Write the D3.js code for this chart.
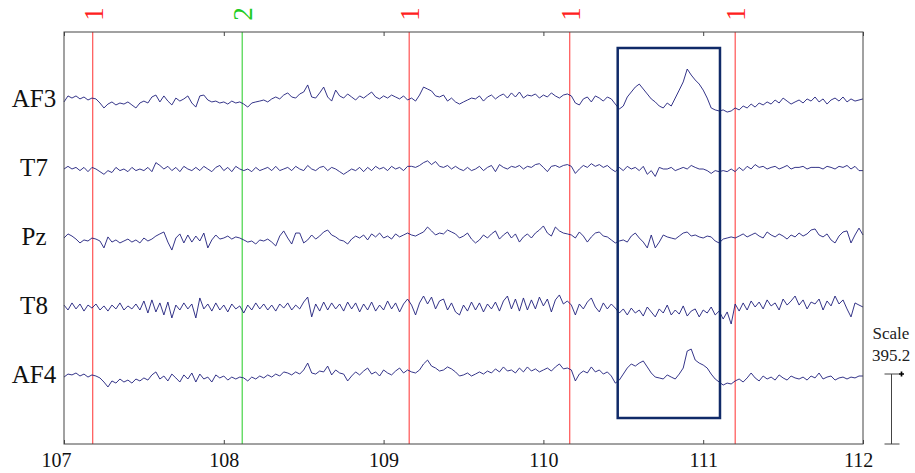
<!DOCTYPE html>
<html>
<head>
  <meta charset="utf-8">
  <title>EEG segment</title>
  <script src="https://d3js.org/d3.v7.min.js"></script>
  <style>
    body { margin: 0; background: #fff; }
    text { font-family: "Liberation Serif", "DejaVu Serif", serif; }
  </style>
</head>
<body>
  <div id="chart"></div>

  <script type="text/javascript">

    // Channels, top to bottom
    var channels = ['AF3', 'T7', 'Pz', 'T8', 'AF4'];

    // Time window (s) and axis ticks
    var timeStart = 107, timeEnd = 112;
    var tickValues = [107, 108, 109, 110, 111, 112];

    // Event markers
    var eventTimes = [107.18, 108.115, 109.16, 110.165, 111.2];
    var eventCodes = ['1', '2', '1', '1', '1'];

    // Highlighted segment
    var boxStart = 110.465, boxEnd = 111.105;

    // Scale bar (uV)
    var scaleValue = 395.2;

    // Samples in uV, evenly spaced across the window
    var af3 = [-11, 23, 11, 23, 6, 17, 0, 11,
      6, -17, -45, -23, -11, -28, -17, -23, -11, -28, -45,
      -17, -6, -17, 17, 28, -11, 23, -6, -28, 11, -6, 6, 23, -17, -40,
      23, 28, 0, -11, -6, -17, -11, -23, -6, -17, -11,
      -23, -40, -17, -11, -6, 0, -11, 6, 17, 6, 28,
      40, 17, 11, 34, 45, 85, 17, 11, 40, 73, 17, -6, 56,
      23, 11, 34, 17, 0, 23, 11, 28, 45, 17, 6, 23, 11, 28, 17, 6, 23, 0,
      11, -6, 28, 73, 62, 51, 23, 17, 28, -6, 11, -11, -23,
      -11, 0, 11, 6, 23, -6, 17, 28, 6, 23, 34, 11, 40, 17, 45, 11, 28, 23, 34, 11, 28, 17, 40, 23, 11, 28, 34,
      23, -17, -28, 6, 17, -11, 23, 11, -6, 17, 6, -23,
      -51, -34, 17, 45, 73, 90, 62, 34, 6, -11, -34,
      -45, -17, -34, 11, 56, 102, 175, 141, 113, 90, 56, 11, -45, -56, -62, -56, -68, -62, -45,
      -56, -34, -45, -23, -40, -17, -28, -11, -23, 0, -17, 11, -6, -23, -11, 0, -17, 6, -6, 17, -11, 6, -23, 0, 11, -6, 17, -11, 6, -6, 0, 6];

    var t7 = [0, 15, 0, 9, -9, 9, -15, 9,
      0, -15, -30, -9, -20, 9, -9, 0, -15, 9, -9,
      0, -9, 9, -15, 36, 20, 0, 15, -9, 9, -15, 15, 0, -9, 9,
      -9, 15, 0, -15, 9, 20, -9, 9, -15, 15, 0,
      -9, 0, -15, 9, -9, 0, 9, -9, 15, -9, 0,
      9, -9, 15, 0, -9, 20, 0, -9, 9, 15, -9, 9, 0,
      -15, -30, -15, 0, -9, 9, -15, 9, -9, 15, 0, 9, -9, 15, 0, 9, -9, 15,
      15, 9, 20, 36, 46, 25, 42, 15, 9, 20, 0, 15, 0,
      -9, 9, -9, 0, 15, -9, 9, 20, -15, 25, 9, 0, 15, 9, 20, 0, 15, 9, 25, 30, 9, -15, 15, 20, 9, 20, 25,
      15, -25, 0, 20, 9, 30, 15, 25, 9, 20, 0, -15,
      9, -9, 15, 0, 9, -9, 15, -30, -9, -42, 9,
      0, 0, 9, -9, 0, 9, 0, 20, 9, 0, 0, -9, -25, -9, -15, -9, -15, 0, -15,
      9, -9, 15, 0, 25, 9, 15, 0, 9, 15, 0, 9, 20, 0, 9, 9, 15, 0, 9, 9, 9, 0, 15, 9, 0, 15, 9, 20, 0, 15, -9, -9];

    var pz = [0, 23, 11, -6, -28, -11, -17, 0,
      -6, -17, -56, 6, -23, -11, -28, -17, -6, -23, -11,
      -28, 0, -17, -6, 11, 23, 34, -23, -68, 0, 23, -28, 17, -23, 11,
      -17, 28, -56, -11, 17, -6, 0, 11, -6, 6, 0,
      -11, -23, -17, -34, -11, -17, -6, -23, -45, 11, 40,
      0, -34, 28, 28, -28, -11, 17, -6, 11, 34, 45, 17, 6,
      -11, -17, -34, -6, 11, 0, 17, -11, 23, 6, 28, 0, 11, -6, 23, 6, 17, 28,
      17, 11, 23, 34, 62, 40, 17, 28, 23, 45, 34, 23, 0,
      11, 28, -6, -28, -11, 17, 0, 23, 40, -6, 17, 34, 0, 23, -23, 6, 23, 0, 28, 45, 68, 28, 11, 62, 40, 28, 23,
      17, 0, 34, 11, -23, 6, 28, 34, 11, 6, -11, -28,
      -17, -11, -23, 11, 28, 0, -23, -56, 17, -56, -23,
      17, 6, 0, -6, 11, 28, 34, 11, 17, 6, 0, 11, 6, -17, -28, -6, 0, 6, 0,
      11, 23, 6, 17, 28, 11, 0, 34, 17, 6, 23, 11, -6, 17, 6, 28, 11, 23, 45, 51, 17, 6, 23, -11, -28, 11, 34, 40, -28, 17, 56, 17];

    var t8 = [11, -17, 23, -11, 17, -23, 11, -6,
      17, -17, 6, -23, 11, -11, 23, -17, 6, -11, 17,
      -17, 34, -34, 40, -28, 23, -45, 28, -62, 11, -17, 23, -11, 17, -62,
      51, -11, 17, -23, 23, -17, 11, -28, 17, -11, 6,
      -34, 11, -17, 23, -11, 17, -17, 11, -23, 17, -6,
      23, -17, 11, -11, 28, 56, -56, 17, -23, 28, -17, 23, -11,
      17, -23, 28, -11, 23, -28, 17, -17, 28, -23, 11, -17, 34, -11, 23, -28, 17, 45,
      11, -45, 23, 62, 17, 56, -11, 34, 45, -17, 23, -28, -45,
      11, -23, 28, -17, 23, -28, 17, -11, 28, -23, 34, 62, -11, 45, -23, 51, -17, 40, -11, 56, 6, 45, -28, 40, 68, 17, 34,
      11, -45, 17, -11, 28, 51, 0, -28, 23, -11, 17, -6,
      -34, -11, -45, -6, -34, -17, -51, 0, -28, -56, -11,
      -34, 11, -45, -17, -40, 6, -51, -23, -11, -56, -17, -34, 0, -45, -23, -68, -28, -96, 17,
      -23, 23, -17, 34, 0, 28, -11, 40, 6, 23, -17, 45, 11, 34, 62, 11, 40, -11, 28, 17, 45, -17, 34, 6, 62, 17, 40, -11, -56, 23, 11, 0];

    var af4 = [-6, 11, 6, 17, 0, 11, -6, 6,
      0, -11, -34, -62, -28, -40, -17, -34, -23, -40, -17,
      -28, -11, -23, 6, 23, -17, 0, -28, 11, -11, -34, 6, -17, 17, -34,
      11, -17, -6, -34, 6, -11, 0, -23, -6, -17, -6,
      -11, -28, -6, -17, 0, -11, 6, -6, 11, 0, 23,
      17, 6, 23, 11, 34, 73, 17, 11, 28, 23, 56, 6, 34,
      17, 11, -28, 0, 23, 6, 28, 45, 11, 23, 0, 34, 17, 6, 28, 45, 17, 34,
      23, 17, 34, 68, 90, 56, 45, 28, 34, 51, 40, 23, 0,
      6, 17, 0, 11, 23, 11, 28, 17, 40, 23, 51, 28, 34, 17, 45, 23, 51, 28, 40, 23, 34, 45, 28, 51, 68, 40, 45,
      34, -28, 11, 28, 17, 51, 23, 34, 11, 23, 0, -40,
      -23, 11, 45, 68, 56, 73, 85, 51, 17, -6, -11,
      -17, 6, -6, -17, 11, 45, 141, 152, 90, 73, 62, 45, 11, -17, -34, -51, -40, -45, -28,
      -17, -34, -11, 17, -11, -28, 0, -17, -6, -23, 6, -11, -23, 0, -11, -17, -6, -23, 0, -11, 17, -17, -6, 0, -23, -11, -6, -17, -6, -11, 0, 0];

    var signals = [af3, t7, pz, t8, af4];

    // Dimensions
    var width = 915, height = 473;
    var plot = {left: 64, right: 863, top: 32, bottom: 444};

    var x = d3.scaleLinear().domain([timeStart, timeEnd]).range([plot.left, plot.right]);
    var yBase = d3.scalePoint().domain(channels).range([100, 376]);
    var amp = d3.scaleLinear().domain([0, scaleValue]).range([0, 70]);

    var svg = d3.select('#chart')
                .append('svg')
                  .attr('width', width)
                  .attr('height', height);

    // Event markers
    svg.selectAll('.event')
        .data(eventTimes)
        .enter().append('line')
          .attr('class', 'event')
          .attr('x1', function(d) { return x(d); })
          .attr('x2', function(d) { return x(d); })
          .attr('y1', plot.top)
          .attr('y2', plot.bottom)
          .style('stroke', function(d, i) { return eventCodes[i] === '2' ? '#22cc22' : '#ff3030'; })
          .style('stroke-width', 1);

    svg.selectAll('.event-label')
        .data(eventTimes)
        .enter().append('text')
          .attr('class', 'event-label')
          .attr('transform', function(d) { return 'translate(' + (x(d) + 1) + ',14) rotate(-90)'; })
          .attr('text-anchor', 'middle')
          .attr('dominant-baseline', 'central')
          .style('font-size', '27px')
          .style('fill', function(d, i) { return eventCodes[i] === '2' ? '#22cc22' : '#ff2020'; })
          .text(function(d, i) { return eventCodes[i]; });

    // Traces
    var line = d3.line()
                 .x(function(d) { return x(d.t); })
                 .y(function(d) { return d.base - amp(d.v); })
                 .curve(d3.curveLinear);

    channels.forEach(function(ch, c) {
      var vals = signals[c];
      var n = vals.length;
      var pts = vals.map(function(v, i) {
        return {t: timeStart + i * (timeEnd - timeStart) / (n - 1), v: v, base: yBase(ch)};
      });
      svg.append('path')
          .attr('class', 'trace')
          .attr('d', line(pts))
          .style('fill', 'none')
          .style('stroke', '#1e1e7c')
          .style('stroke-width', 0.9);

      svg.append('text')
          .attr('x', 34)
          .attr('y', yBase(ch) + 7)
          .attr('text-anchor', 'middle')
          .style('font-size', '25px')
          .style('fill', '#111')
          .text(ch);
    });

    // Highlight box
    svg.append('rect')
        .attr('x', x(boxStart))
        .attr('y', 48)
        .attr('width', x(boxEnd) - x(boxStart))
        .attr('height', 370)
        .style('fill', 'none')
        .style('stroke', '#102a68')
        .style('stroke-width', 2.5);

    // Frame
    svg.append('rect')
        .attr('x', plot.left)
        .attr('y', plot.top)
        .attr('width', plot.right - plot.left)
        .attr('height', plot.bottom - plot.top)
        .style('fill', 'none')
        .style('stroke', '#444')
        .style('stroke-width', 1);

    // Axes (inward ticks)
    var xAxisBottom = d3.axisBottom(x).tickValues(tickValues).tickSize(-4).tickPadding(9).tickFormat(d3.format('d'));
    var xAxisTop = d3.axisTop(x).tickValues(tickValues).tickSize(-4).tickFormat('');

    var gb = svg.append('g')
        .attr('transform', 'translate(0,' + plot.bottom + ')')
        .call(xAxisBottom);
    gb.select('.domain').remove();
    gb.selectAll('line').style('stroke', '#444');
    gb.selectAll('text')
        .style('font-size', '20px')
        .style('font-family', '"Liberation Serif", serif')
        .style('fill', '#111')
        .attr('dx', function(d) { return d === 107 ? -8 : (d === 112 ? -5 : 0); });

    var gt = svg.append('g')
        .attr('transform', 'translate(0,' + plot.top + ')')
        .call(xAxisTop);
    gt.select('.domain').remove();
    gt.selectAll('line').style('stroke', '#444');

    // Scale bar
    var sbX = 891.5, sbBottom = plot.bottom, sbTop = plot.bottom - amp(scaleValue);
    var sb = svg.append('g').style('stroke', '#444').style('stroke-width', 1);
    sb.append('line').attr('x1', sbX).attr('x2', sbX).attr('y1', sbTop).attr('y2', sbBottom);
    sb.append('line').attr('x1', sbX - 7).attr('x2', sbX + 8).attr('y1', sbTop).attr('y2', sbTop);
    sb.append('line').attr('x1', sbX - 7).attr('x2', sbX + 8).attr('y1', sbBottom).attr('y2', sbBottom);
    svg.append('path')
        .attr('d', d3.symbol().type(d3.symbolCross).size(14)())
        .attr('transform', 'translate(' + (sbX + 10) + ',' + sbTop + ')')
        .style('fill', '#000');

    svg.append('text')
        .attr('x', 891)
        .attr('y', 339)
        .attr('text-anchor', 'middle')
        .style('font-size', '17px')
        .style('fill', '#222')
        .text('Scale');
    svg.append('text')
        .attr('x', 891)
        .attr('y', 361)
        .attr('text-anchor', 'middle')
        .style('font-size', '17px')
        .style('fill', '#222')
        .text(scaleValue);

  </script>
</body>
</html>
